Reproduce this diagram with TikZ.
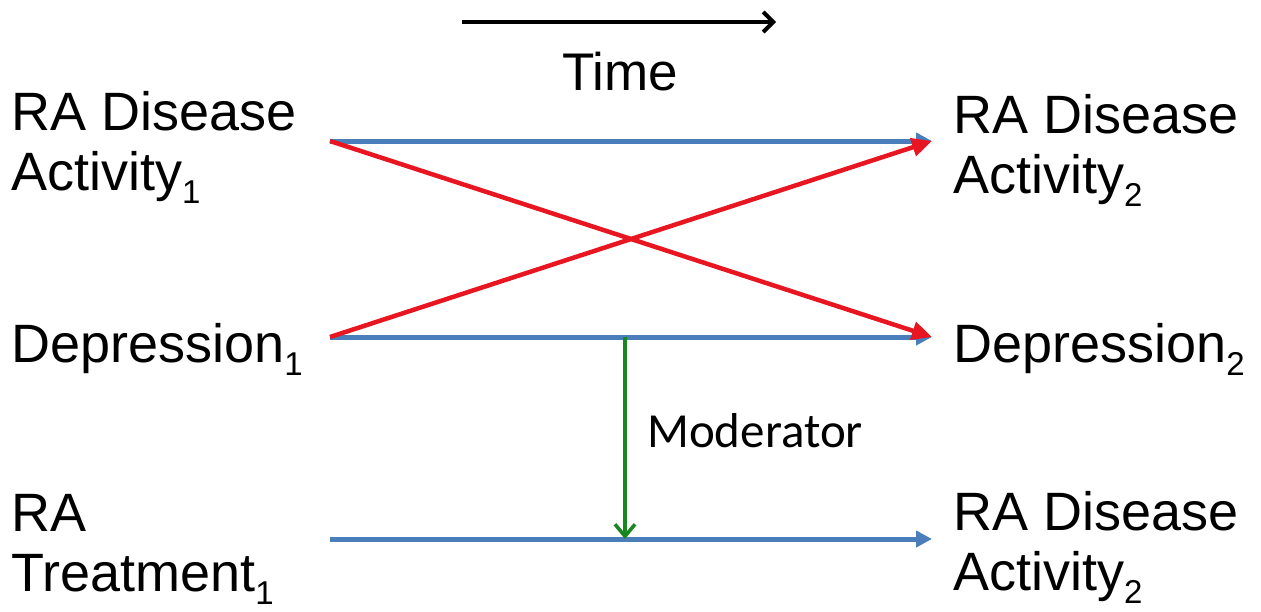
\documentclass[tikz,border=0pt]{standalone}
\usepackage{fontspec}
\setmainfont{Liberation Sans}
\newfontfamily\calib{Carlito}
\usetikzlibrary{arrows.meta}
\definecolor{pathblue}{RGB}{74,126,187}
\definecolor{crossred}{RGB}{232,22,32}
\definecolor{modgreen}{RGB}{24,135,32}
\newcommand{\sbs}[1]{\raisebox{-13pt}{\fontsize{33}{33}\selectfont #1}}
\begin{document}
\begin{tikzpicture}[x=1pt,y=-1pt,
  lab/.style={anchor=base west, inner sep=0pt, align=left,
    font=\fontsize{54}{60}\selectfont},
  bluearrow/.style={draw=pathblue, line width=5pt,
    -{Triangle[length=16pt,width=16pt]}},
  redarrow/.style={draw=crossred, line width=4.5pt,
    -{Triangle[length=20pt,width=18pt]}},
  modarrow/.style={draw=modgreen, line width=3.5pt,
    -{Straight Barb[length=12pt,width=20pt,line width=3.5pt]}},
  timearrow/.style={draw=black, line width=4pt,
    -{Straight Barb[length=10pt,width=20pt,line width=4pt]}}]
\useasboundingbox (0,0) rectangle (1261,611);
\fill[white] (0,0) rectangle (1261,611);

% labels (base = baseline of the last line)
\node[lab] (ra1) at (11,190) {RA Disease\\Activity\sbs{1}};
\node[lab] (dep1) at (11,362) {Depression\sbs{1}};
\node[lab] (tr1) at (11,591) {RA\\Treatment\sbs{1}};
\node[lab] (ra2) at (953,193) {RA Disease\\Activity\sbs{2}};
\node[lab] (dep2) at (953,362) {Depression\sbs{2}};
\node[lab] (ra3) at (953,590) {RA Disease\\Activity\sbs{2}};
\node[anchor=base, inner sep=0pt, font=\fontsize{53}{60}\selectfont] (time) at (620,90) {Time};
\node[anchor=base west, inner sep=0pt, font=\calib\fontsize{49}{52}\selectfont] (mod) at (647,447) {Moderator};

% arrow end points
\coordinate (a1) at (330,141);
\coordinate (d1) at (330,337);
\coordinate (t1) at (330,539);
\coordinate (a2) at (932,141);
\coordinate (d2) at (932,337);
\coordinate (t2) at (932,539);
\coordinate (ms) at (625,337);
\coordinate (me) at (625,539);
\coordinate (ts) at (462,22);
\coordinate (te) at (776,22);

\draw[timearrow] (ts) -- (te);
\draw[bluearrow] (a1) -- (a2);
\draw[bluearrow] (d1) -- (d2);
\draw[bluearrow] (t1) -- (t2);
\draw[redarrow] (a1) -- (d2);
\draw[redarrow] (d1) -- (a2);
\draw[modarrow] (ms) -- (me);
\end{tikzpicture}
\end{document}
